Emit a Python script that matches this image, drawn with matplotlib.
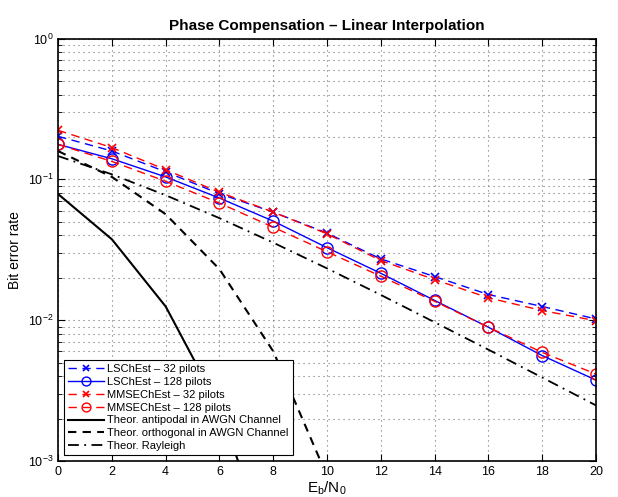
import matplotlib
matplotlib.use("Agg")
import matplotlib.pyplot as plt
from matplotlib.ticker import LogLocator, NullFormatter

plt.rcParams['font.family'] = ['Liberation Sans', 'DejaVu Sans']
plt.rcParams['mathtext.fontset'] = 'custom'
plt.rcParams['mathtext.rm'] = 'Liberation Sans'

ebn0 = [0, 2, 4, 6, 8, 10, 12, 14, 16, 18, 20]

ls_32 = [0.202, 0.159, 0.113, 0.079, 0.0585, 0.0415, 0.0272, 0.0204, 0.0152, 0.0125, 0.0102]
ls_128 = [0.177, 0.140, 0.104, 0.0736, 0.0505, 0.0327, 0.0215, 0.0138, 0.0089, 0.0056, 0.00375]
mmse_32 = [0.223, 0.168, 0.117, 0.081, 0.0585, 0.041, 0.0265, 0.0194, 0.0144, 0.0117, 0.0099]
mmse_128 = [0.177, 0.134, 0.0968, 0.0678, 0.0457, 0.0306, 0.0205, 0.0136, 0.0089, 0.0059, 0.00414]

theo_antipodal = [0.0786, 0.0375, 0.0125, 0.00239, 0.000191, 3.9e-6]
theo_orthogonal = [0.1587, 0.104, 0.0565, 0.0230, 0.0060, 0.00078, 3.4e-5]
theo_rayleigh = [0.1464, 0.1085, 0.0771, 0.0530, 0.0355, 0.0233, 0.0151, 0.00966, 0.00617, 0.00391, 0.00248]

labels = ['LSChEst – 32 pilots', 'LSChEst – 128 pilots',
          'MMSEChEst – 32 pilots', 'MMSEChEst – 128 pilots',
          'Theor. antipodal in AWGN Channel',
          'Theor. orthogonal in AWGN Channel', 'Theor. Rayleigh']

fig = plt.figure(figsize=(6.18, 4.97), dpi=100)
ax = fig.add_axes([0.094, 0.0725, 0.8705, 0.85])

dash = (0, (6, 4))
ax.semilogy(ebn0, ls_32, color='b', ls=dash, marker='x', lw=1, ms=6, mew=1.2, label=labels[0])
ax.semilogy(ebn0, ls_128, color='b', ls='-', marker='o', lw=1, ms=8, mfc='none', mew=1, label=labels[1])
ax.semilogy(ebn0, mmse_32, color='r', ls=dash, marker='x', lw=1, ms=6, mew=1.2, label=labels[2])
ax.semilogy(ebn0, mmse_128, color='r', ls=dash, marker='o', lw=1, ms=8, mfc='none', mew=1, label=labels[3])
ax.semilogy(ebn0[:len(theo_antipodal)], theo_antipodal, 'k-', lw=1.5, label=labels[4])
ax.semilogy(ebn0[:len(theo_orthogonal)], theo_orthogonal, color='k', ls=(0, (4, 3)), lw=1.5, label=labels[5])
ax.semilogy(ebn0, theo_rayleigh, color='k', ls=(0, (6, 3, 1, 3)), lw=1.3, label=labels[6])

ax.set_xlim(0, 20)
ax.set_ylim(1e-3, 1)
ax.set_xticks(ebn0)
ax.yaxis.set_major_locator(LogLocator(base=10, numticks=10))
ax.yaxis.set_minor_locator(LogLocator(base=10, subs=range(2, 10), numticks=10))
ax.yaxis.set_minor_formatter(NullFormatter())
ax.tick_params(which='both', direction='in', top=True, right=True, labelsize=9)
ax.tick_params(which='major', length=5)
ax.tick_params(which='minor', length=3)
grid_ls = (0, (1, 3.5))
ax.grid(True, which='major', ls=grid_ls, color='0.45', lw=0.8)
ax.grid(True, which='minor', axis='y', ls=grid_ls, color='0.45', lw=0.8)
for s in ax.spines.values():
    s.set_linewidth(1.2)

ax.set_title('Phase Compensation – Linear Interpolation', fontsize=11, fontweight='bold', pad=6)
ax.set_xlabel('E$_\\mathregular{b}$/N$_\\mathregular{0}$', fontsize=11, labelpad=1)
ax.set_ylabel('Bit error rate', fontsize=10)

leg = ax.legend(loc='lower left', fontsize=8, handlelength=3.2, fancybox=False,
                edgecolor='k', framealpha=1, borderaxespad=0.5, markerscale=0.8,
                labelspacing=0.25, borderpad=0.4, handletextpad=0.3)
leg.get_frame().set_linewidth(0.8)

fig.savefig('out.png', dpi=100)
